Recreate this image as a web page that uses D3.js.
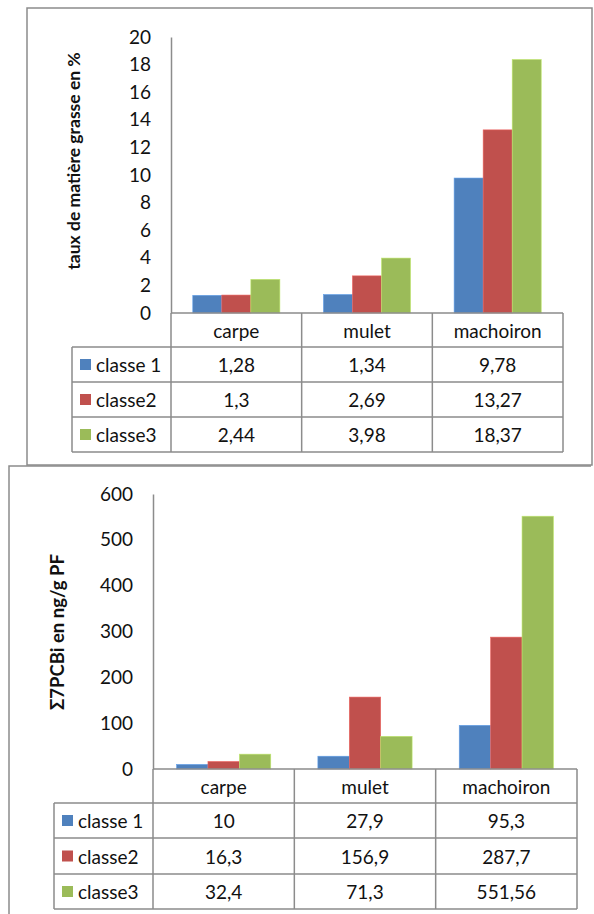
<!DOCTYPE html>
<html>
<head>
<meta charset="utf-8">
<script src="https://cdn.jsdelivr.net/npm/d3@7/dist/d3.min.js"></script>
<style>
  html, body { margin: 0; padding: 0; background: #fff; }
  svg { display: block; font-family: Lato, "Open Sans", sans-serif; }
</style>
</head>
<body>
<svg id="chart" width="594" height="914"></svg>
<script>
// Fish species and fat-class series
const categories = ["carpe", "mulet", "machoiron"];
const seriesNames = ["classe 1", "classe2", "classe3"];
const seriesColors = ["#4F81BD", "#C0504D", "#9BBB59"];

// Fat content (%)
const fatClasse1 = [1.28, 1.34, 9.78];
const fatClasse2 = [1.3, 2.69, 13.27];
const fatClasse3 = [2.44, 3.98, 18.37];
const fatTicks = [0, 2, 4, 6, 8, 10, 12, 14, 16, 18, 20];

// Sum of 7 indicator PCBs (ng/g fresh weight)
const pcbClasse1 = [10, 27.9, 95.3];
const pcbClasse2 = [16.3, 156.9, 287.7];
const pcbClasse3 = [32.4, 71.3, 551.56];
const pcbTicks = [0, 100, 200, 300, 400, 500, 600];

const fmt = v => String(v).replace(".", ",");
const gridColor = "#8c8c8c";
const textSize = 19;
const svg = d3.select("#chart");

function drawChart(cfg) {
  const g = svg.append("g");
  const series = cfg.series;

  // Chart frame
  g.append("path")
    .attr("d", cfg.frame)
    .attr("fill", "none").attr("stroke", gridColor).attr("stroke-width", 1.5);

  const x = d3.scaleBand().domain(categories).range([cfg.x0, cfg.x1]).paddingInner(0).paddingOuter(0);
  const inner = d3.scaleBand().domain(seriesNames)
    .range([0, x.bandwidth()]).paddingInner(0).paddingOuter(0.75);
  const y = d3.scaleLinear().domain(cfg.domain).range([cfg.yBase, cfg.yTop]);

  // Bars
  series.forEach((vals, si) => {
    g.append("g").selectAll("rect").data(vals).join("rect")
      .attr("x", (d, i) => x(categories[i]) + inner(seriesNames[si]))
      .attr("y", d => y(d))
      .attr("width", inner.bandwidth())
      .attr("height", d => y(0) - y(d))
      .attr("fill", seriesColors[si])
      .attr("stroke", d3.color(seriesColors[si]).brighter(0.6))
      .attr("stroke-width", 0.6);
  });

  // Value axis
  const yAxis = d3.axisLeft(y).tickValues(cfg.ticks).tickSize(0).tickPadding(20).tickFormat(d => fmt(d));
  const ya = g.append("g").attr("transform", `translate(${cfg.x0},0)`).call(yAxis);
  ya.select(".domain").attr("stroke", gridColor).attr("stroke-width", 1.5);
  ya.selectAll("text").attr("font-size", textSize).attr("fill", "#111").attr("font-family", "Lato, sans-serif");

  // Axis title
  g.append("text")
    .attr("transform", `translate(${cfg.titleX},${cfg.titleY}) rotate(-90)`)
    .attr("text-anchor", "middle").attr("dominant-baseline", "central")
    .attr("font-size", cfg.titleSize).attr("font-weight", "bold").attr("fill", "#111")
    .text(cfg.title);

  // Data table under the axis
  const rows = cfg.rows; // [headerTop, r1, r2, r3, bottom]
  const tl = d3.path();
  tl.moveTo(cfg.x0, rows[0]); tl.lineTo(cfg.x1, rows[0]);
  for (let r = 1; r < rows.length; r++) { tl.moveTo(cfg.legendX, rows[r]); tl.lineTo(cfg.x1, rows[r]); }
  tl.moveTo(cfg.legendX, rows[1]); tl.lineTo(cfg.legendX, rows[4]);
  categories.forEach(c => { tl.moveTo(x(c), rows[0]); tl.lineTo(x(c), rows[4]); });
  tl.moveTo(cfg.x1, rows[0]); tl.lineTo(cfg.x1, rows[4]);
  g.append("path").attr("d", tl.toString())
    .attr("fill", "none").attr("stroke", gridColor).attr("stroke-width", 1.5);

  const cellText = (tx, ty, t, anchor) => g.append("text")
    .attr("x", tx).attr("y", ty).attr("text-anchor", anchor || "middle")
    .attr("dominant-baseline", "central").attr("font-size", textSize).attr("fill", "#111").text(t);

  categories.forEach(c => cellText(x(c) + x.bandwidth() / 2, (rows[0] + rows[1]) / 2, c));
  series.forEach((vals, si) => {
    const cy = (rows[si + 1] + rows[si + 2]) / 2;
    g.append("rect").attr("x", cfg.legendX + 8).attr("y", cy - 5.5)
      .attr("width", 11).attr("height", 11).attr("fill", seriesColors[si]);
    cellText(cfg.legendX + 24, cy, seriesNames[si], "start");
    vals.forEach((v, i) => cellText(x(categories[i]) + x.bandwidth() / 2, cy, fmt(v)));
  });
}

drawChart({
  series: [fatClasse1, fatClasse2, fatClasse3],
  domain: [0, 20], ticks: fatTicks,
  x0: 171, x1: 563, yBase: 313, yTop: 37,
  legendX: 72, rows: [313, 347, 382, 417, 452],
  title: "taux de matière grasse en %", titleX: 73, titleY: 161, titleSize: 17.5,
  frame: "M27,465 L27,8 L592,8 L592,465 Z"
});

drawChart({
  series: [pcbClasse1, pcbClasse2, pcbClasse3],
  domain: [0, 600], ticks: pcbTicks,
  x0: 153, x1: 577, yBase: 769, yTop: 494,
  legendX: 54, rows: [769, 803, 838, 874, 909],
  title: "Σ7PCBi en ng/g PF", titleX: 57, titleY: 632, titleSize: 18.5,
  frame: "M9,916 L9,466 L591,466"
});
</script>
</body>
</html>
